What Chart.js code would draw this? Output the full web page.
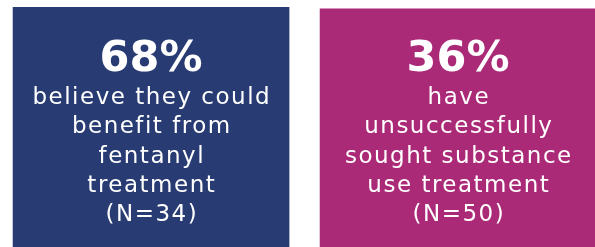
<!DOCTYPE html>
<html><head><meta charset="utf-8">
<script src="https://cdn.jsdelivr.net/npm/chart.js@4.4.1/dist/chart.umd.min.js"></script>
<style>html,body{margin:0;padding:0;background:#fff;overflow:hidden;}#wrap{width:595px;height:247px;position:relative;}canvas{display:block;}</style>
</head><body><div id="wrap"><canvas id="c" width="595" height="247"></canvas></div>
<script>
// ---- data ----
const categories = ['Could benefit from fentanyl treatment', 'Unsuccessfully sought treatment'];
const percentages = [68, 36];
const sampleSizes = [34, 50];
const descriptions = [
  ['believe they could', 'benefit from', 'fentanyl', 'treatment'],
  ['have', 'unsuccessfully', 'sought substance', 'use treatment']
];
const boxHeights = [100, 99.2];   // panel extents (full-height panels)
const boxColors = ['#283B73', '#AB2A78'];

const textPlugin = {
  id: 'panelText',
  afterDatasetsDraw(chart) {
    const ctx = chart.ctx;
    const meta = chart.getDatasetMeta(0);
    meta.data.forEach((bar, i) => {
      const cx = bar.x;
      ctx.save();
      ctx.fillStyle = '#ffffff';
      ctx.textAlign = 'center';
      ctx.textBaseline = 'alphabetic';
      ctx.font = 'bold 43px "DejaVu Sans"';
      ctx.fillText(percentages[i] + '%', cx, 71);
      ctx.font = '23px "DejaVu Sans"';
      ctx.letterSpacing = '1.5px';
      const lines = descriptions[i].concat(['(N=' + sampleSizes[i] + ')']);
      lines.forEach((ln, k) => {
        ctx.fillText(ln, cx + 0.75, 104 + k * 29.3);
      });
      ctx.restore();
    });
  }
};

new Chart(document.getElementById('c'), {
  type: 'bar',
  data: {
    labels: categories,
    datasets: [{
      data: boxHeights.map((h, i) => ({ x: i + 1, y: h })),
      backgroundColor: boxColors,
      borderWidth: 0,
      barThickness: 276
    }]
  },
  options: {
    responsive: false,
    animation: false,
    devicePixelRatio: 1,
    layout: { padding: { top: 7, left: 0, right: 0, bottom: 0 } },
    plugins: { legend: { display: false }, tooltip: { enabled: false } },
    scales: {
      x: { type: 'linear', min: 0.508, max: 2.446, offset: false, display: false },
      y: { min: 0, max: 100, display: false }
    }
  },
  plugins: [textPlugin]
});
</script>
</body></html>
